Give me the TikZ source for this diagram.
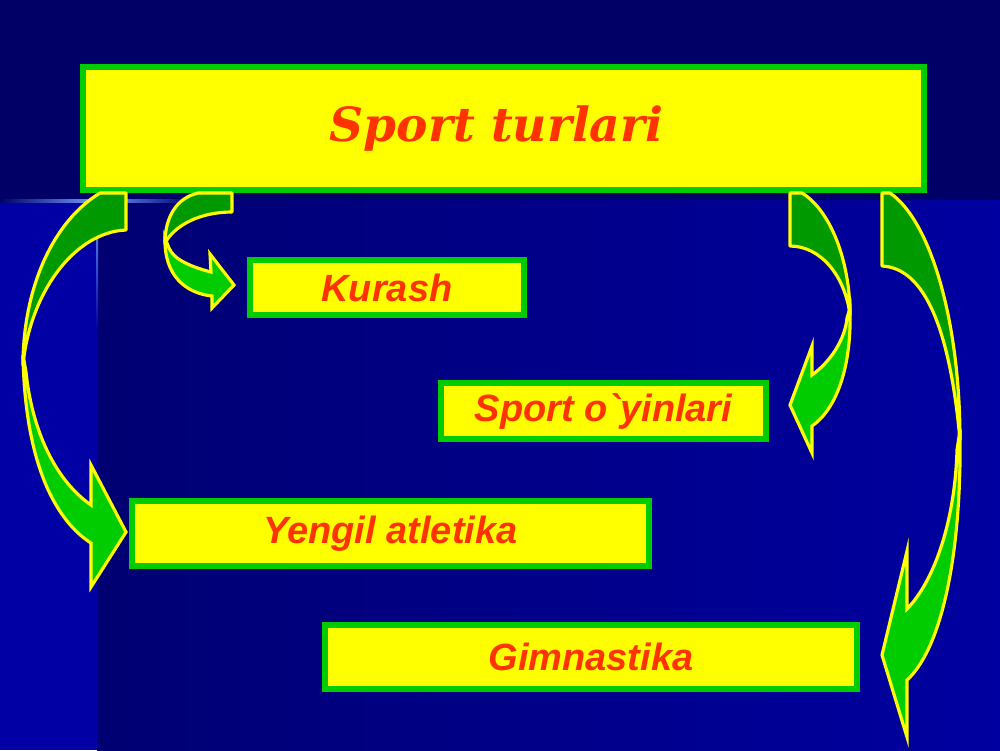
\documentclass[tikz,border=0pt]{standalone}
\usepackage{fontspec}
\newfontfamily\labelfont{Liberation Sans}
\newfontfamily\titlefont{DejaVu Serif}
\definecolor{navytop}{HTML}{000066}
\definecolor{navylow}{HTML}{000072}
\definecolor{bluelow}{HTML}{0000A0}
\definecolor{stripblue}{HTML}{0000A4}
\definecolor{glowblue}{HTML}{6FA0FF}
\definecolor{boxyellow}{HTML}{FFFF00}
\definecolor{boxgreen}{HTML}{00CC00}
\definecolor{darkgreen}{HTML}{009900}
\definecolor{lightgreen}{HTML}{00CC00}
\definecolor{titlered}{HTML}{FF3300}

\begin{document}
\begin{tikzpicture}[x=0.01cm, y=-0.01cm,
  topic/.style={draw=boxgreen, fill=boxyellow, line width=1.7pt, inner sep=0pt,
    text=titlered, font=\labelfont\bfseries\itshape\fontsize{10.8}{12}\selectfont},
  backband/.style={fill=darkgreen, draw=boxyellow, line width=0.9pt, line join=round},
  frontband/.style={fill=lightgreen, draw=boxyellow, line width=0.9pt, line join=miter}]
\useasboundingbox (0,0) rectangle (1000,750);

% Background
\fill[navytop] (0,0) rectangle (1000,200);
\shade[left color=navylow, right color=bluelow] (97,200) rectangle (1000,750);
\fill[stripblue] (0,200) rectangle (97,750);
\shade[left color=navytop, right color=glowblue] (0,199.5) rectangle (97,202);
\shade[left color=glowblue, right color=navylow] (97,199.5) rectangle (190,202);
\shade[top color=glowblue, bottom color=stripblue] (96,202) rectangle (98,330);

% Boxes
\node[topic, minimum width=8.41cm, minimum height=1.23cm,
  font=\titlefont\bfseries\itshape\fontsize{13.4}{15}\selectfont] (title) at (503.5,128.5)
  {\hspace*{-0.14cm}\raisebox{-0.06cm}{Sport turlari}};
\node[topic, minimum width=2.74cm, minimum height=0.55cm] (kurash) at (387,287.5) {Kurash};
\node[topic, minimum width=3.25cm, minimum height=0.56cm] (oyin) at (603.5,411) {Sport o\textasciigrave yinlari};
\node[topic, minimum width=5.17cm, minimum height=0.65cm] (atletika) at (390.5,533.5) {Yengil atletika};
\node[topic, minimum width=5.32cm, minimum height=0.64cm] (gimnastika) at (591,657) {Gimnastika};

% Arrow to Yengil atletika
\draw[backband] (100,193) .. controls (52,222) and (23,290) .. (23,365)
  .. controls (30,292) and (75,232) .. (126,230) -- (126,193) -- cycle;
\draw[frontband] (23,355) .. controls (25,468) and (58,522) .. (91,543) -- (91,587)
  -- (126,532) -- (91,465) -- (91,505) .. controls (55,480) and (32,430) .. (26,372) -- cycle;

% Arrow to Kurash
\draw[backband] (198,193) .. controls (176,198) and (165,218) .. (165,243)
  .. controls (175,225) and (200,212) .. (232,212) -- (232,193) -- cycle;
\draw[frontband] (165,238) .. controls (164,275) and (185,293) .. (212,296) -- (212,308)
  -- (234,285) -- (210,254) -- (211,272) .. controls (192,267) and (174,260) .. (169,248) -- cycle;

% Arrow to Sport o`yinlari
\draw[backband] (790,193) -- (802,193) .. controls (830,210) and (850,260) .. (850,315)
  .. controls (845,275) and (820,246) .. (790,246) -- cycle;
\draw[frontband] (850,308) .. controls (852,370) and (835,410) .. (812,426) -- (812,453)
  -- (790,405) -- (812,346) -- (812,375) .. controls (830,362) and (845,340) .. (847,318) -- cycle;

% Arrow to Gimnastika
\draw[backband] (882,193) -- (890,193) .. controls (930,220) and (960,320) .. (960,440)
  .. controls (950,330) and (925,268) .. (882,266) -- cycle;
\draw[frontband] (960,430) .. controls (962,560) and (940,650) .. (907,680) -- (907,737)
  -- (882,655) -- (907,551) -- (907,609) .. controls (935,580) and (955,520) .. (957,450) -- cycle;
\end{tikzpicture}
\end{document}
